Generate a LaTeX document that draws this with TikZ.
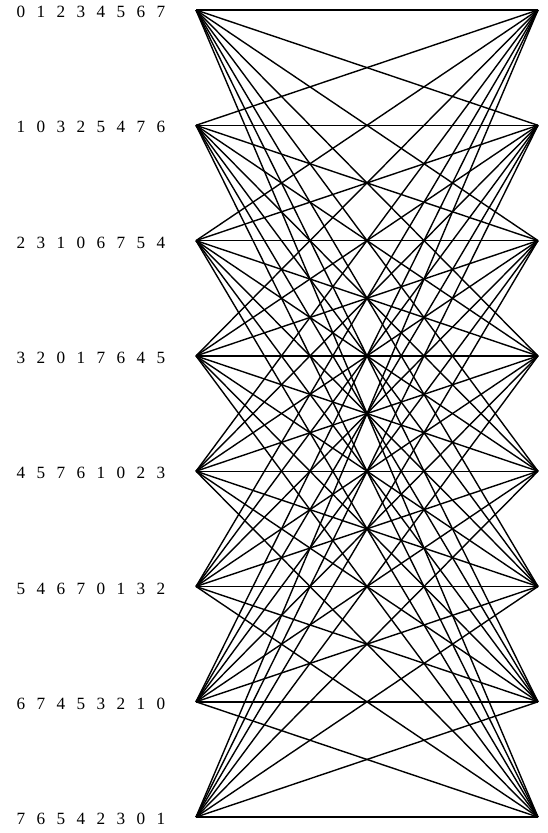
\documentclass[tikz,border=0pt]{standalone}
\usepackage{fontspec}
\setmainfont{Liberation Serif}
\begin{document}
\begin{tikzpicture}[x=1pt,y=-1pt,
  edge/.style={line width=1.4pt,black},
  lbl/.style={anchor=base west,inner sep=0pt,font=\fontsize{17.2}{19}\selectfont}]
\useasboundingbox (0,0) rectangle (548,833);
\foreach \i/\t in {0/{0 1 2 3 4 5 6 7},1/{1 0 3 2 5 4 7 6},2/{2 3 1 0 6 7 5 4},3/{3 2 0 1 7 6 4 5},4/{4 5 7 6 1 0 2 3},5/{5 4 6 7 0 1 3 2},6/{6 7 4 5 3 2 1 0},7/{7 6 5 4 2 3 0 1}}{
  \pgfmathsetmacro{\yy}{10+115.3*\i}
  \coordinate (L\i) at (196,\yy);
  \coordinate (R\i) at (538,\yy);
  \node[lbl] (T\i) at (16.5,\yy+7.6) {\spaceskip=11.4pt plus 0pt minus 0pt \t};
}
\foreach \i in {0,...,7}{
  \foreach \j in {0,...,7}{
    \draw[edge] (L\i) -- (R\j);
  }
}
\end{tikzpicture}
\end{document}
